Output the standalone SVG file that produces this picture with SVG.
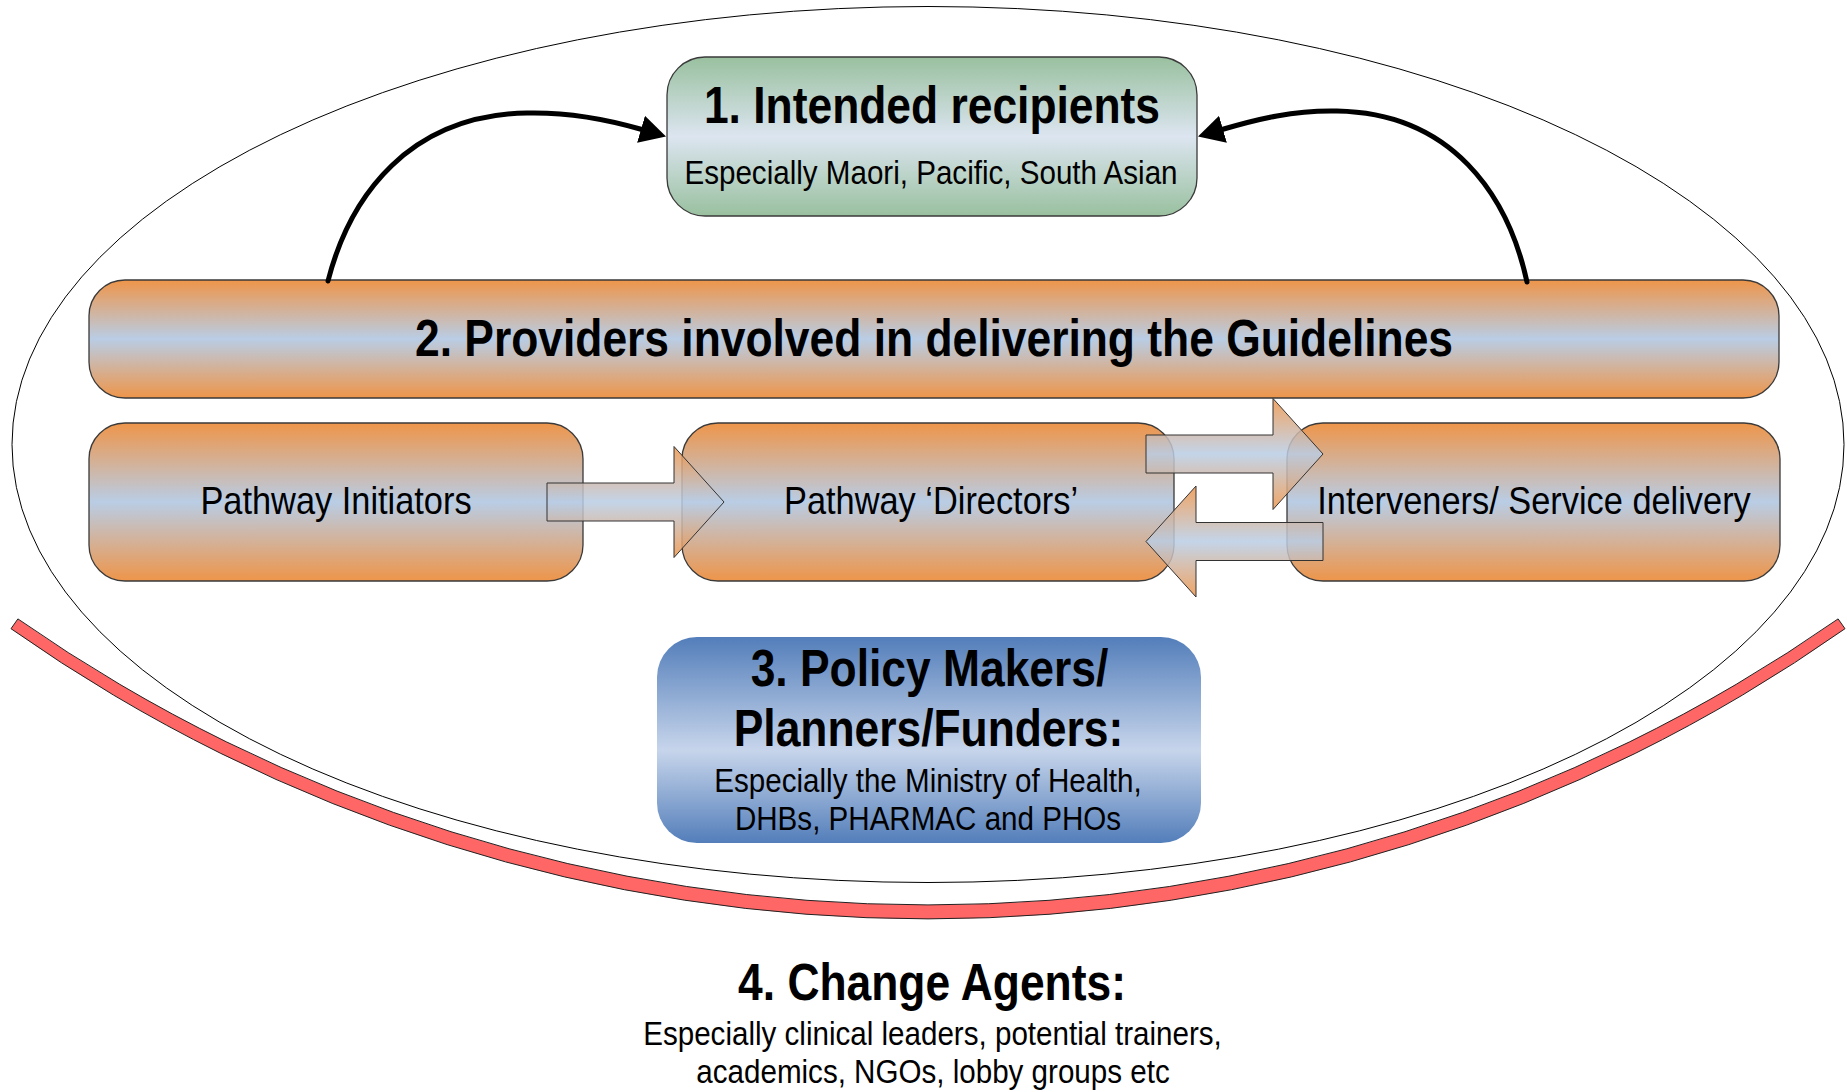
<svg xmlns="http://www.w3.org/2000/svg" width="1847" height="1092" viewBox="0 0 1847 1092">
  <defs>
    <!-- banded vertical fills: edge colour, light band through the middle -->
    <linearGradient id="gOrange" x1="0" y1="0" x2="0" y2="1">
      <stop offset="0" stop-color="#EE954A"/>
      <stop offset="0.5" stop-color="#B9CDE5"/>
      <stop offset="1" stop-color="#EE954A"/>
    </linearGradient>
    <linearGradient id="gGreen" x1="0" y1="0" x2="0" y2="1">
      <stop offset="0" stop-color="#99C09F"/>
      <stop offset="0.5" stop-color="#DCE5F0"/>
      <stop offset="1" stop-color="#99C09F"/>
    </linearGradient>
    <linearGradient id="gBlue" x1="0" y1="0" x2="0" y2="1">
      <stop offset="0" stop-color="#537EBA"/>
      <stop offset="0.55" stop-color="#C7D5EB"/>
      <stop offset="1" stop-color="#537EBA"/>
    </linearGradient>
    <marker id="head" markerUnits="userSpaceOnUse" markerWidth="26" markerHeight="28" viewBox="0 0 26 28" refX="1" refY="14" orient="auto">
      <path d="M0,0 L26,14 L0,28 Z" fill="#000"/>
    </marker>
    <!-- block arrow, tail centre at the origin, pointing right -->
    <path id="blockArrow" d="M0,-19 H127 V-55.5 L177,0 L127,55.5 V19 H0 Z"/>
  </defs>
  <style>
    .box { stroke: #3a3a3a; stroke-width: 1.3; }
    .orange { fill: url(#gOrange); }
    text { font-family: "Liberation Sans", Arial, sans-serif; fill: #000; text-anchor: middle;
           transform-box: fill-box; transform-origin: center; transform: scaleX(0.87); }
    .b { font-weight: bold; font-size: 51px; }
    .r { font-size: 39.5px; }
    .s { font-size: 34px; }
    .curve { fill: none; stroke: #000; stroke-width: 5; stroke-linecap: round; marker-end: url(#head); }
    .block { fill: url(#gOrange); fill-opacity: 0.85; stroke: #333; stroke-width: 1; }
  </style>

  <rect width="1847" height="1092" fill="#fff"/>

  <!-- surrounding system boundary -->
  <ellipse id="boundary" cx="928" cy="444.5" rx="916" ry="438" fill="none" stroke="#000" stroke-width="1"/>

  <g id="node-recipients">
    <rect class="box" x="667" y="57" width="530" height="159" rx="38" fill="url(#gGreen)"/>
    <text class="b" x="932" y="123">1. Intended recipients</text>
    <text class="s" x="931" y="184">Especially Maori, Pacific, South Asian</text>
  </g>

  <g id="node-providers">
    <rect class="box orange" x="89" y="280" width="1690" height="118" rx="36"/>
    <text class="b" x="934" y="356">2. Providers involved in delivering the Guidelines</text>
  </g>

  <g id="node-initiators">
    <rect class="box orange" x="89" y="423" width="494" height="158" rx="36"/>
    <text class="r" x="336" y="514.5">Pathway Initiators</text>
  </g>

  <g id="node-directors">
    <rect class="box orange" x="682" y="423" width="492" height="158" rx="36"/>
    <text class="r" x="931" y="514.5">Pathway ‘Directors’</text>
  </g>

  <g id="node-interveners">
    <rect class="box orange" x="1287" y="423" width="493" height="158" rx="36"/>
    <text class="r" x="1534" y="514.5">Interveners/ Service delivery</text>
  </g>

  <g id="node-policy">
    <rect x="657" y="637" width="544" height="206" rx="40" fill="url(#gBlue)"/>
    <text class="b" x="929.5" y="686">3. Policy Makers/</text>
    <text class="b" x="928.5" y="746">Planners/Funders:</text>
    <text class="s" x="928" y="792">Especially the Ministry of Health,</text>
    <text class="s" x="928" y="830">DHBs, PHARMAC and PHOs</text>
  </g>

  <g id="node-change-agents">
    <!-- red crescent band under the boundary -->
    <path d="M11,628.7 A1594,1594 0 0 0 1845,628.7 L1838.1,618.9 A1591,1591 0 0 1 17.9,618.9 Z" fill="#FF6666" stroke="#222" stroke-width="1"/>
    <text class="b" x="932" y="1000">4. Change Agents:</text>
    <text class="s" x="932.5" y="1045">Especially clinical leaders, potential trainers,</text>
    <text class="s" x="933" y="1083">academics, NGOs, lobby groups etc</text>
  </g>

  <g id="connectors">
    <path class="curve" d="M328,281 C350,195 410,115 527,113 C570,112 606,119 642,129.5"/>
    <path class="curve" d="M1527,282 C1508,195 1452,113 1337,111 C1294,110 1258,119 1222,129.5"/>
    <use href="#blockArrow" class="block" transform="translate(547,502)"/>
    <use href="#blockArrow" class="block" transform="translate(1146,454)"/>
    <use href="#blockArrow" class="block" transform="translate(1323,541.5) scale(-1,1)"/>
  </g>
</svg>
